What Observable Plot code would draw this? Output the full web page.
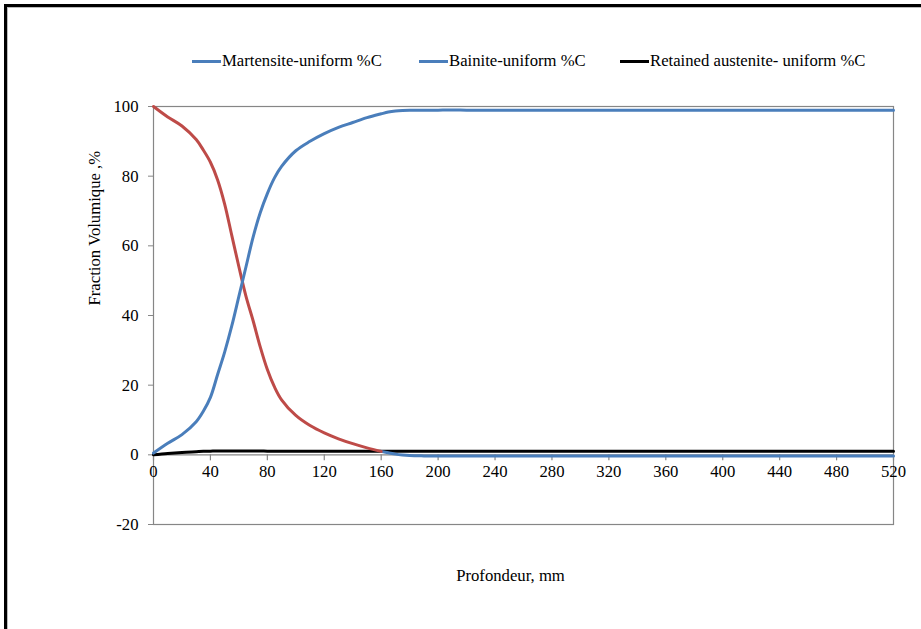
<!DOCTYPE html>
<html>
<head>
<meta charset="utf-8">
<script src="https://cdn.jsdelivr.net/npm/d3@7"></script>
<script src="https://cdn.jsdelivr.net/npm/@observablehq/plot@0.6"></script>
<style>
  html, body { margin: 0; padding: 0; background: #fff; }
  #wrap { position: relative; width: 921px; height: 629px; overflow: hidden; font-family: "Liberation Serif", Tinos, "Times New Roman", "DejaVu Serif", serif; }
  #border { position: absolute; left: 4px; top: 4px; width: 1000px; height: 800px; border: 3px solid #000; box-shadow: inset 1px 1px 0 #bbb; }
  #chart { position: absolute; left: 0; top: 0; }
  .leg { position: absolute; top: 51px; font-size: 16.7px; line-height: 20px; white-space: nowrap; color: #000; }
  .leg i { display: inline-block; width: 29px; height: 3px; vertical-align: middle; margin-right: 1px; position: relative; top: -1px; }
</style>
</head>
<body>
<div id="wrap">
  <div id="border"></div>
  <div id="chart"></div>
  <div id="legend"></div>
</div>
<script>
// depth (mm)
const depth = [0,10,20,30,35,40,45,50,55,60,65,70,75,80,85,90,100,110,120,130,140,150,160,165,170,175,180,190,200,210,220,240,280,320,360,400,440,480,520];
// Martensite-uniform %C
const martensite = [100,97,94.4,90.5,87.5,84,79,72,63,54,45.5,38.5,31,24.5,19.5,15.8,11.3,8.4,6.3,4.6,3.2,2.0,1.0,0.6,0.2,-0.05,-0.2,-0.3,-0.35,-0.35,-0.35,-0.35,-0.35,-0.35,-0.35,-0.35,-0.35,-0.35,-0.35];
// Bainite-uniform %C
const bainite = [0.5,3.3,5.8,9.5,12.5,16.5,23,29.5,37,45.5,54,62.5,69.5,75,79.5,82.8,87.3,90,92.2,94,95.4,96.8,97.9,98.4,98.7,98.85,98.9,98.9,98.95,99.0,98.95,98.9,98.9,98.9,98.9,98.9,98.9,98.9,98.9];
// Retained austenite- uniform %C
const austenite = [0,0.4,0.7,0.9,1.0,1.05,1.1,1.1,1.1,1.1,1.1,1.1,1.1,1.05,1.05,1.05,1.0,1.0,1.0,1.0,1.0,1.0,1.0,1.0,1.0,1.0,1.0,1.0,1.0,1.0,1.0,1.0,1.0,1.0,1.0,1.0,1.0,1.0,1.0];

const xTicks = [0,40,80,120,160,200,240,280,320,360,400,440,480,520];
const yTicks = [-20,0,20,40,60,80,100];
const seriesNames = ["Martensite-uniform %C", "Bainite-uniform %C", "Retained austenite- uniform %C"];
const legendColors = ["#4A7EBB", "#4A7EBB", "#000000"];
const legendLeft = [192, 419, 620];

const RED = "#BE4B48", BLUE = "#4A7EBB";
const rows = depth.map((d, i) => ({d, m: martensite[i], b: bainite[i], a: austenite[i]}));
const mRed = rows.filter(r => r.d <= 160);
const mBlue = rows.filter(r => r.d >= 160);
const font = '"Liberation Serif", Tinos, "Times New Roman", "DejaVu Serif", serif';
const FS = 16.7;

const chart = Plot.plot({
  width: 921,
  height: 629,
  marginLeft: 153,
  marginRight: 28,
  marginTop: 106,
  marginBottom: 105,
  style: {fontFamily: font, fontSize: FS + "px", background: "transparent", color: "#000"},
  x: {domain: [0, 520], axis: null},
  y: {domain: [-20, 100], axis: null},
  marks: [
    Plot.frame({stroke: "#868686", strokeWidth: 1.2}),
    Plot.ruleY([0], {stroke: "#868686", strokeWidth: 1.2}),
    Plot.axisY(yTicks, {tickSize: 5, tickPadding: 10, stroke: "#868686", label: null, tickFormat: d => String(d), fontSize: FS, fontFamily: font}),
    Plot.ruleX(xTicks, {x: d => d, y1: 0, y2: 0, insetBottom: -6, stroke: "#868686", strokeWidth: 1.2}),
    Plot.text(xTicks, {x: d => d, y: 0, text: d => String(d), dy: 17, fontSize: FS, fontFamily: font}),
    Plot.line(rows, {x: "d", y: "a", stroke: "#000", strokeWidth: 3, curve: "catmull-rom"}),
    Plot.line(mBlue, {x: "d", y: "m", stroke: BLUE, strokeWidth: 3, curve: "catmull-rom"}),
    Plot.line(mRed, {x: "d", y: "m", stroke: RED, strokeWidth: 3, curve: "catmull-rom"}),
    Plot.line(rows, {x: "d", y: "b", stroke: BLUE, strokeWidth: 3, curve: "catmull-rom"}),
    Plot.text(["Fraction Volumique ,%"], {frameAnchor: "left", dx: -59, dy: -10, rotate: -90, text: d => d, fontSize: FS, fontFamily: font}),
    Plot.text(["Profondeur, mm"], {frameAnchor: "bottom", dx: -13, dy: 56, text: d => d, fontSize: FS, fontFamily: font})
  ]
});
document.getElementById("chart").append(chart);

const legend = document.getElementById("legend");
seriesNames.forEach((name, i) => {
  const s = document.createElement("div");
  s.className = "leg";
  s.style.left = legendLeft[i] + "px";
  const sw = document.createElement("i");
  sw.style.background = legendColors[i];
  s.append(sw, document.createTextNode(name));
  legend.append(s);
});
</script>
</body>
</html>
